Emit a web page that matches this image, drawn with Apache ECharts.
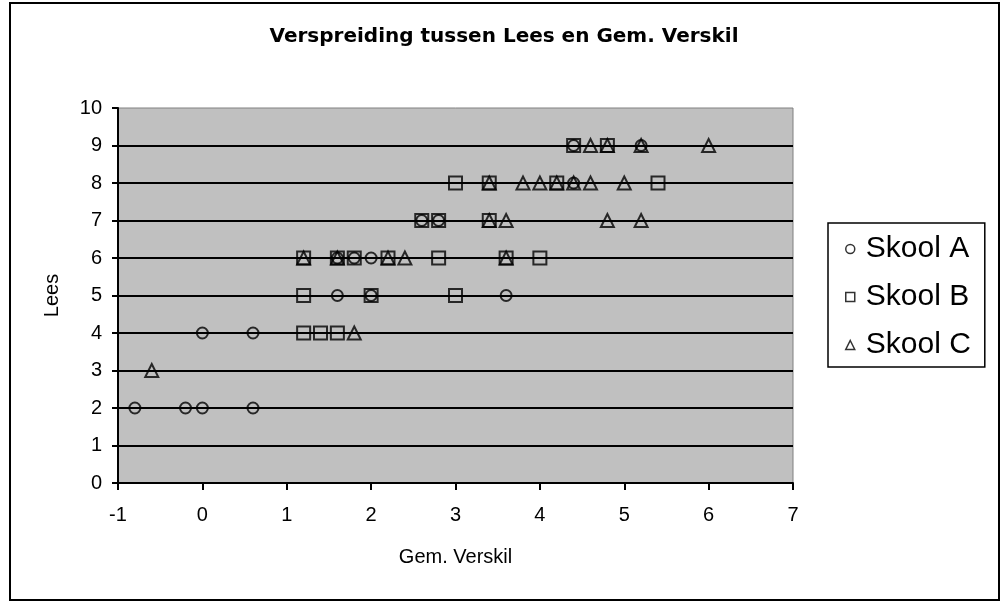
<!DOCTYPE html>
<html>
<head>
    <meta charset="utf-8">
    <title>Verspreiding tussen Lees en Gem. Verskil</title>
    <script src="https://cdn.jsdelivr.net/npm/echarts@6/dist/echarts.min.js"></script>
    <style>
        html, body { margin: 0; padding: 0; background: #fff; }
    </style>
</head>
<body>
<div id="main" style="width: 1002px;height:603px;"></div>

<script>
    // data: [Gem. Verskil, Lees]
    var skoolA = [
        [-0.8, 2], [-0.2, 2], [0, 2], [0.6, 2],
        [0, 4], [0.6, 4],
        [1.6, 5], [2.0, 5], [3.6, 5],
        [1.6, 6], [1.8, 6], [2.0, 6],
        [2.6, 7], [2.8, 7],
        [4.4, 8],
        [4.4, 9], [5.2, 9]
    ];
    var skoolB = [
        [1.2, 4], [1.4, 4], [1.6, 4],
        [1.2, 5], [2.0, 5], [3.0, 5],
        [1.2, 6], [1.6, 6], [1.8, 6], [2.2, 6], [2.8, 6], [3.6, 6], [4.0, 6],
        [2.6, 7], [2.8, 7], [3.4, 7],
        [3.0, 8], [3.4, 8], [4.2, 8], [5.4, 8],
        [4.4, 9], [4.8, 9]
    ];
    var skoolC = [
        [-0.6, 3],
        [1.8, 4],
        [1.2, 6], [1.6, 6], [2.2, 6], [2.4, 6], [3.6, 6],
        [3.4, 7], [3.6, 7], [4.8, 7], [5.2, 7],
        [3.4, 8], [3.8, 8], [4.0, 8], [4.2, 8], [4.4, 8], [4.6, 8], [5.0, 8],
        [4.6, 9], [4.8, 9], [5.2, 9], [6.0, 9]
    ];
    var seriesNames = ['Skool A', 'Skool B', 'Skool C'];

    var FONT = 'Liberation Sans, Arial, sans-serif';
    var hollow = { color: 'rgba(0,0,0,0)', borderColor: '#000', borderWidth: 2 };

    var myChart = echarts.init(document.getElementById('main'));

    var option = {
        backgroundColor: '#fff',
        animation: false,
        textStyle: { fontFamily: FONT, color: '#000' },
        title: {
            text: 'Verspreiding tussen Lees en Gem. Verskil',
            left: 504,
            textAlign: 'center',
            top: 27,
            padding: 0,
            textStyle: { fontFamily: 'DejaVu Sans', fontWeight: 'bold', fontSize: 20, color: '#000' }
        },
        graphic: [{
            type: 'rect',
            shape: { x: 10, y: 3, width: 989, height: 597 },
            style: { fill: 'none', stroke: '#000', lineWidth: 2 },
            silent: true,
            z: -1
        }],
        legend: {
            orient: 'vertical',
            left: 828,
            top: 223,
            width: 165,
            padding: [9, 14, 5, 17],
            itemGap: 14,
            itemWidth: 9,
            itemHeight: 9,
            backgroundColor: '#fff',
            borderColor: '#000',
            borderWidth: 1.5,
            borderRadius: 0,
            textStyle: { fontFamily: FONT, fontSize: 30, color: '#000', lineHeight: 34, padding: [0, 0, 0, 6] },
            itemStyle: { color: 'rgba(0,0,0,0)', borderColor: '#000', borderWidth: 1.5 },
            data: [
                { name: seriesNames[0], icon: 'circle' },
                { name: seriesNames[1], icon: 'rect' },
                { name: seriesNames[2], icon: 'triangle' }
            ]
        },
        grid: {
            left: 118,
            top: 108,
            width: 675,
            height: 375,
            show: true,
            backgroundColor: '#c0c0c0',
            borderColor: '#808080',
            borderWidth: 1
        },
        xAxis: {
            type: 'value',
            min: -1,
            max: 7,
            interval: 1,
            name: 'Gem. Verskil',
            nameLocation: 'middle',
            nameGap: 64,
            nameTextStyle: { fontFamily: FONT, fontSize: 20, color: '#000' },
            axisLine: { show: true, onZero: false, lineStyle: { color: '#000', width: 2 } },
            axisTick: { show: true, length: 7, lineStyle: { color: '#000', width: 2 } },
            axisLabel: { fontFamily: FONT, fontSize: 20, color: '#000', margin: 22 },
            splitLine: { show: false }
        },
        yAxis: {
            type: 'value',
            min: 0,
            max: 10,
            interval: 1,
            name: 'Lees',
            nameLocation: 'middle',
            nameGap: 56,
            nameTextStyle: { fontFamily: FONT, fontSize: 20, color: '#000' },
            axisLine: { show: true, onZero: false, lineStyle: { color: '#000', width: 2 } },
            axisTick: { show: true, length: 6, lineStyle: { color: '#000', width: 2 } },
            axisLabel: { fontFamily: FONT, fontSize: 20, color: '#000', margin: 16 },
            splitLine: { show: true, showMaxLine: false, lineStyle: { color: '#000', width: 2 } }
        },
        series: [{
            name: seriesNames[0],
            type: 'scatter',
            symbol: 'circle',
            symbolSize: 11,
            itemStyle: hollow,
            data: skoolA
        }, {
            name: seriesNames[1],
            type: 'scatter',
            symbol: 'rect',
            symbolSize: 13,
            itemStyle: hollow,
            data: skoolB
        }, {
            name: seriesNames[2],
            type: 'scatter',
            symbol: 'triangle',
            symbolSize: 13,
            itemStyle: hollow,
            data: skoolC
        }]
    };

    myChart.setOption(option);
</script>
</body>
</html>
